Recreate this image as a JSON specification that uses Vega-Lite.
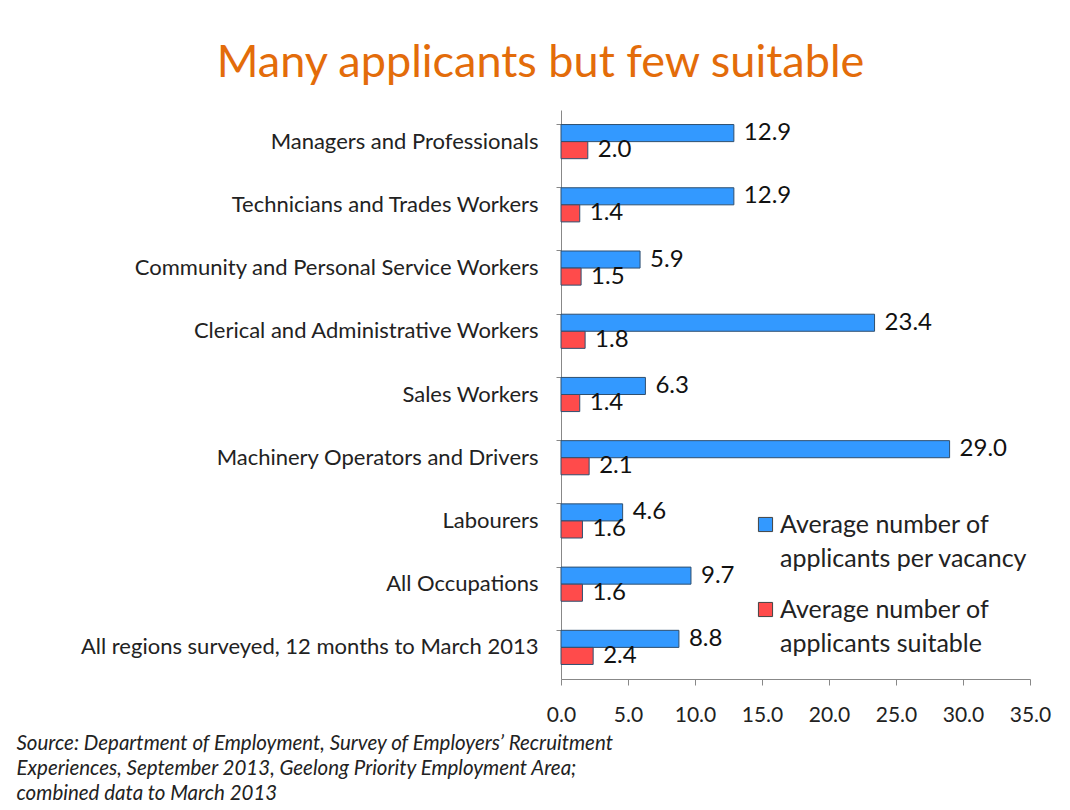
{
  "$schema": "https://vega.github.io/schema/vega-lite/v6.json",
  "width": 469,
  "height": 569,
  "autosize": {"type": "none"},
  "padding": {"left": 561, "top": 110, "right": 40, "bottom": 131},
  "background": "white",
  "title": {
    "text": "Many applicants but few suitable",
    "font": "Lato",
    "fontSize": 45,
    "fontWeight": "normal",
    "color": "#E36C0A",
    "anchor": "middle",
    "dx": -255,
    "baseline": "alphabetic",
    "offset": -12
  },
  "data": {
    "values": [
      {"occupation": "Managers and Professionals", "series": "Average number of applicants per vacancy", "value": 12.9},
      {"occupation": "Managers and Professionals", "series": "Average number of applicants suitable", "value": 2.0},
      {"occupation": "Technicians and Trades Workers", "series": "Average number of applicants per vacancy", "value": 12.9},
      {"occupation": "Technicians and Trades Workers", "series": "Average number of applicants suitable", "value": 1.4},
      {"occupation": "Community and Personal Service Workers", "series": "Average number of applicants per vacancy", "value": 5.9},
      {"occupation": "Community and Personal Service Workers", "series": "Average number of applicants suitable", "value": 1.5},
      {"occupation": "Clerical and Administrative Workers", "series": "Average number of applicants per vacancy", "value": 23.4},
      {"occupation": "Clerical and Administrative Workers", "series": "Average number of applicants suitable", "value": 1.8},
      {"occupation": "Sales Workers", "series": "Average number of applicants per vacancy", "value": 6.3},
      {"occupation": "Sales Workers", "series": "Average number of applicants suitable", "value": 1.4},
      {"occupation": "Machinery Operators and Drivers", "series": "Average number of applicants per vacancy", "value": 29.0},
      {"occupation": "Machinery Operators and Drivers", "series": "Average number of applicants suitable", "value": 2.1},
      {"occupation": "Labourers", "series": "Average number of applicants per vacancy", "value": 4.6},
      {"occupation": "Labourers", "series": "Average number of applicants suitable", "value": 1.6},
      {"occupation": "All Occupations", "series": "Average number of applicants per vacancy", "value": 9.7},
      {"occupation": "All Occupations", "series": "Average number of applicants suitable", "value": 1.6},
      {"occupation": "All regions surveyed, 12 months to March 2013", "series": "Average number of applicants per vacancy", "value": 8.8},
      {"occupation": "All regions surveyed, 12 months to March 2013", "series": "Average number of applicants suitable", "value": 2.4}
    ]
  },
  "encoding": {
    "y": {
      "field": "occupation",
      "type": "nominal",
      "sort": null,
      "scale": {"paddingInner": 0.46, "paddingOuter": 0.23},
      "axis": {
        "title": null,
        "labelFont": "Lato",
        "labelFontSize": 22,
        "labelColor": "#222222",
        "labelPadding": 18,
        "labelLimit": 0,
        "domainColor": "#888888",
        "tickColor": "#888888",
        "tickSize": 5,
        "ticks": true,
        "bandPosition": 0
      }
    },
    "yOffset": {"field": "series", "type": "nominal", "sort": null},
    "x": {
      "field": "value",
      "type": "quantitative",
      "scale": {"domain": [0, 35], "nice": false},
      "axis": {
        "values": [0, 5, 10, 15, 20, 25, 30, 35],
        "format": ".1f",
        "grid": false,
        "labelFlush": false,
        "labelOverlap": false,
        "labelFont": "Lato",
        "labelFontSize": 21,
        "labelColor": "#222222",
        "labelPadding": 19,
        "domainColor": "#888888",
        "tickColor": "#888888",
        "tickSize": 6,
        "title": ["Source: Department of Employment, Survey of Employers’ Recruitment", "Experiences, September 2013, Geelong Priority Employment Area;", "combined data to March 2013"],
        "titleFont": "Lato",
        "titleFontSize": 20.5,
        "titleFontStyle": "italic",
        "titleFontWeight": "normal",
        "titleColor": "#222222",
        "titleAnchor": "start",
        "titleAlign": "left",
        "titleBaseline": "top",
        "titleX": -545,
        "titleY": 54,
        "titleLineHeight": 25
      }
    }
  },
  "layer": [
    {
      "mark": {"type": "bar", "stroke": "#2f4f6f", "strokeWidth": 1},
      "encoding": {
        "color": {
          "field": "series",
          "type": "nominal",
          "scale": {
            "domain": ["Average number of applicants per vacancy", "Average number of applicants suitable"],
            "range": ["#3399FF", "#FF4B4B"]
          },
          "legend": {
            "orient": "none",
            "legendX": 192,
            "legendY": 402,
            "title": null,
            "symbolType": "square",
            "symbolSize": 200,
            "symbolStrokeColor": "#444444",
            "symbolStrokeWidth": 1,
            "labelFont": "Lato",
            "labelFontSize": 25,
            "labelColor": "#222222",
            "labelLimit": 0,
            "labelOffset": 2,
            "labelBaseline": "middle",
            "rowPadding": 25,
            "labelExpr": "datum.label == 'Average number of applicants per vacancy' ? ['Average number of', 'applicants per vacancy'] : ['Average number of', 'applicants suitable']",
            "encode": {
              "labels": {"update": {"lineHeight": {"value": 34}}}
            }
          }
        }
      }
    },
    {
      "mark": {"type": "text", "align": "left", "baseline": "middle", "dx": 10, "font": "Lato", "fontSize": 24, "color": "#111111"},
      "encoding": {
        "text": {"field": "value", "type": "quantitative", "format": ".1f"}
      }
    }
  ],
  "config": {"view": {"stroke": null}}
}
